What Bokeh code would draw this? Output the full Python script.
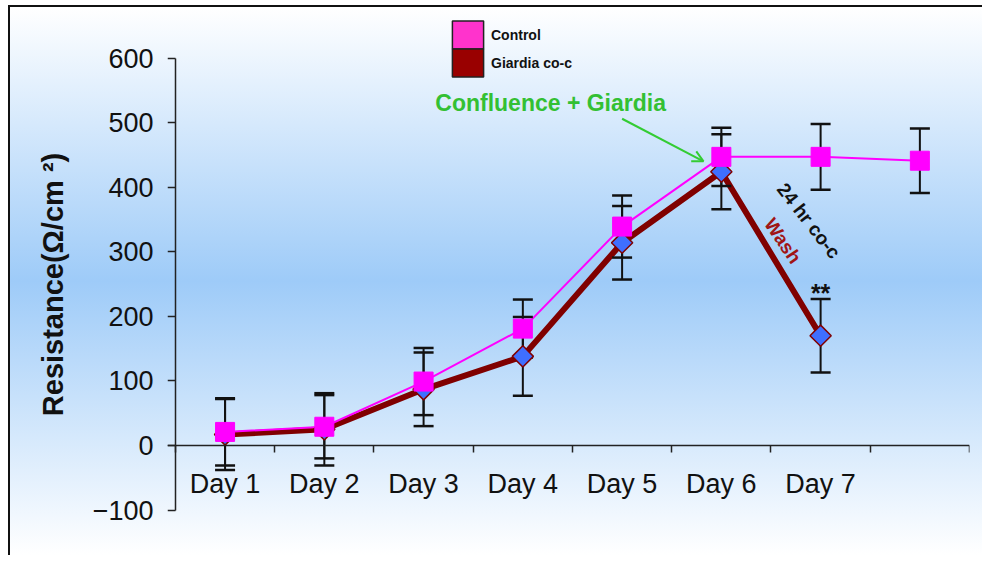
import numpy as np
from bokeh.plotting import figure
from bokeh.models import (Range1d, FixedTicker, Label, Arrow, OpenHead, Legend,
                          LegendItem, LinearAxis)
from bokeh.embed import file_html
from bokeh.resources import INLINE

# ---- data ----
days = ["Day 1", "Day 2", "Day 3", "Day 4", "Day 5", "Day 6", "Day 7", ""]
control = [21, 29, 99, 181, 339, 447, 447, 441]
control_err = [52, 49, 52, 45, 48, 45, 51, 50]
giardia = [17, 25, 87, 138, 314, 424, 170]
giardia_err = [55, 56, 57, 61, 57, 58, 57]
y_ticks = [-100, 0, 100, 200, 300, 400, 500, 600]
series_names = ["Control", "Giardia co-c"]
series_box_colors = ["#ff33cc", "#990000"]

FONT = "Liberation Sans"
AX = "#222222"
xc = [i + 0.5 for i in range(len(days))]
xg = xc[:len(giardia)]

p = figure(width=974, height=550,
           x_range=Range1d(-0.08, 8), y_range=Range1d(-167.3, 665.9),
           output_backend="svg", toolbar_location=None,
           min_border_left=157, min_border_right=15,
           min_border_top=8, min_border_bottom=4,
           background_fill_alpha=0, border_fill_alpha=0,
           outline_line_color=None)
p.styles = {
    "background": "linear-gradient(180deg, #ffffff 0%, #9ecbf8 50%, #ffffff 100%)",
    "border-top": "2px solid #111111",
    "border-left": "2px solid #111111",
    "margin-left": "8px",
    "margin-top": "5px",
}
p.grid.visible = False

# x axis drawn at y = 0
xa = p.xaxis[0]
xa.fixed_location = 0
xa.ticker = FixedTicker(ticks=xc, minor_ticks=list(range(len(days) + 1)))
xa.major_label_overrides = {x: d for x, d in zip(xc, days)}
xa.major_tick_out = 0
xa.major_tick_in = 0
xa.minor_tick_out = 7
xa.minor_tick_in = 0
xa.minor_tick_line_color = AX
xa.minor_tick_line_width = 1.5
xa.axis_line_color = AX
xa.axis_line_width = 1.5
xa.major_label_standoff = 17
xa.major_label_text_font = FONT
xa.major_label_text_font_size = "27px"
xa.major_label_text_color = "#111111"

# y axis: labels + title on the left panel (no line)
ya = p.yaxis[0]
ya.ticker = FixedTicker(ticks=y_ticks, minor_ticks=[])
ya.axis_line_color = None
ya.major_tick_line_color = None
ya.major_tick_out = 0
ya.major_tick_in = 0
ya.major_label_standoff = 14
ya.major_label_text_font = FONT
ya.major_label_text_font_size = "27px"
ya.major_label_text_color = "#111111"
ya.axis_label = "Resistance(Ω/cm ²)"
ya.axis_label_text_font = FONT
ya.axis_label_text_font_size = "29px"
ya.axis_label_text_font_style = "bold"
ya.axis_label_text_color = "#111111"
ya.axis_label_standoff = 21

# y axis line + ticks drawn at x = 0, from -100 to 600
yline = LinearAxis(fixed_location=0, bounds=(y_ticks[0], y_ticks[-1]),
                   ticker=FixedTicker(ticks=y_ticks, minor_ticks=[]),
                   axis_line_color=AX, axis_line_width=1.5,
                   major_tick_out=8, major_tick_in=0,
                   major_tick_line_color=AX, major_tick_line_width=1.5,
                   major_label_text_alpha=0)
p.add_layout(yline, "left")

# lines
p.line(xg, giardia, line_color="#800000", line_width=6)
p.line(xc, control, line_color="#ff00ff", line_width=2)

# error bars
for xs, vals, errs in ((xc, control, control_err), (xg, giardia, giardia_err)):
    hi = [v + e for v, e in zip(vals, errs)]
    lo = [v - e for v, e in zip(vals, errs)]
    p.segment(x0=xs, y0=lo, x1=xs, y1=hi, line_color="#111111", line_width=2)
    p.scatter(xs, hi, marker="dash", size=20, line_color="#111111", line_width=2.5)
    p.scatter(xs, lo, marker="dash", size=20, line_color="#111111", line_width=2.5)

# markers
p.scatter(xg, giardia, marker="square", size=15, angle=np.pi / 4,
          fill_color="#3f6fff", line_color="#800000", line_width=1.5)
p.scatter(xc, control, marker="square", size=19,
          fill_color="#ff00ff", line_color="#ff00ff", line_width=1)

# legend: two stacked single-item legends with filled boxes
nan = [float("nan")]
for name, col, vy in zip(series_names, series_box_colors, (501, 473)):
    r = p.quad(left=nan, right=nan, top=nan, bottom=nan, fill_color=col,
               line_color="#222222", line_width=1.5)
    lg = Legend(items=[LegendItem(label=name, renderers=[r])],
                location=(281, vy), orientation="vertical",
                glyph_width=39, glyph_height=35, label_standoff=4,
                spacing=0, padding=0, margin=0,
                label_text_font=FONT, label_text_font_size="14px",
                label_text_font_style="bold", label_text_color="#111111",
                border_line_alpha=0, background_fill_alpha=0)
    p.add_layout(lg)

# annotations
p.add_layout(Label(x=3.78, y=530, text="Confluence + Giardia",
                   text_align="center", text_baseline="middle",
                   text_font=FONT, text_font_size="23px", text_font_style="bold",
                   text_color="#33c033"))
p.add_layout(Arrow(x_start=4.50, y_start=506, x_end=5.32, y_end=440,
                   line_color="#33cc33", line_width=2,
                   end=OpenHead(size=11, line_color="#33cc33", line_width=2)))
p.add_layout(Label(x=6.38, y=348, text="24 hr co-c", angle=-52, angle_units="deg",
                   text_align="center", text_baseline="middle",
                   text_font=FONT, text_font_size="19px", text_font_style="bold",
                   text_color="#111111"))
p.add_layout(Label(x=6.12, y=317, text="Wash", angle=-56, angle_units="deg",
                   text_align="center", text_baseline="middle",
                   text_font=FONT, text_font_size="19px", text_font_style="bold",
                   text_color="#a01515"))
p.add_layout(Label(x=6.5, y=236, text="**",
                   text_align="center", text_baseline="middle",
                   text_font=FONT, text_font_size="25px", text_font_style="bold",
                   text_color="#111111"))

open("out.html", "w").write(file_html(p, INLINE))
